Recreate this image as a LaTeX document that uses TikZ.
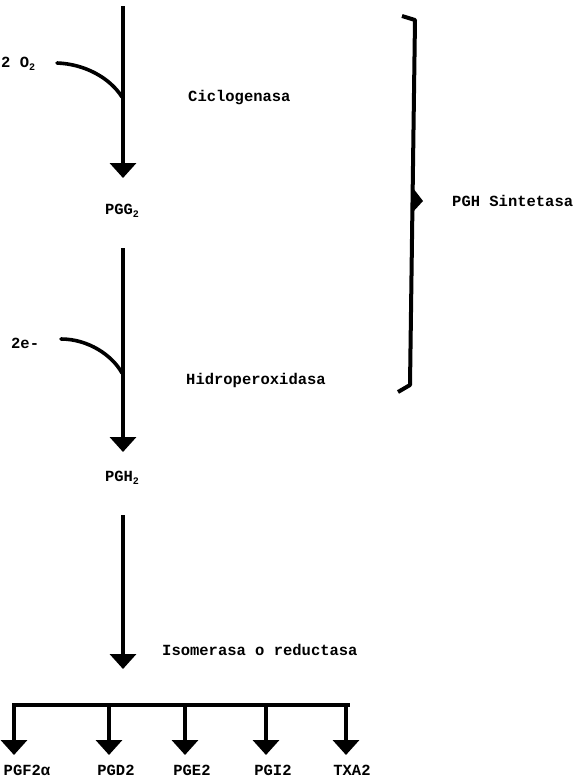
\documentclass[tikz,border=0pt]{standalone}
\usepackage{fontspec}
\setmainfont{Liberation Mono}
\usetikzlibrary{arrows.meta}
\tikzset{
  lbl/.style={font=\bfseries\fontsize{15.5}{18}\selectfont, inner sep=0pt},
  flow/.style={line width=3.6pt, -{Triangle[width=26pt,length=15pt]}},
  feed/.style={line width=3.6pt, line cap=round},
  bar/.style={line width=3.6pt},
}
\newcommand{\sbt}[1]{\raisebox{-0.35ex}{\fontsize{10}{11}\selectfont #1}}
\begin{document}
\begin{tikzpicture}[x=1pt,y=-1pt]
\useasboundingbox (0,0) rectangle (586,780);
% coordinates
\coordinate (t1) at (123,6);
\coordinate (j1) at (122,97);
\coordinate (e1) at (123,178);
\coordinate (t2) at (123,248);
\coordinate (j2) at (122,373);
\coordinate (e2) at (123,452);
\coordinate (t3) at (123,515);
\coordinate (e3) at (123,669);
% labels
\node[lbl, anchor=west] (o2) at (1,64) {2 O\sbt{2}};
\node[lbl, anchor=west] (cic) at (188,98) {Ciclogenasa};
\node[lbl] (pgg) at (122,211) {PGG\sbt{2}};
\node[lbl, anchor=west] (e2m) at (11,343) {2e-};
\node[lbl, anchor=west] (hid) at (186,380) {Hidroperoxidasa};
\node[lbl] (pgh) at (122,478) {PGH\sbt{2}};
\node[lbl, anchor=west] (iso) at (162,650) {Isomerasa o reductasa};
\node[lbl, anchor=west] (sin) at (452,201) {PGH Sintetasa};
% products
\node[lbl] (p1) at (27,770) {PGF2α};
\node[lbl] (p2) at (116,770) {PGD2};
\node[lbl] (p3) at (192,770) {PGE2};
\node[lbl] (p4) at (273,770) {PGI2};
\node[lbl] (p5) at (352,770) {TXA2};
% main arrows
\draw[flow] (t1) -- (e1);
\draw[flow] (t2) -- (e2);
\draw[flow] (t3) -- (e3);
% feed curves
\draw[feed] (57,63) .. controls (85,64) and (110,78) .. (j1);
\draw[feed] (61,339) .. controls (88,339) and (112,355) .. (j2);
% distribution bar
\coordinate (b1) at (14,705);
\coordinate (b5) at (348,705);
\draw[bar] ([xshift=-1.8pt]b1) -- ([xshift=1.8pt]b5);
\foreach \x/\n in {14/1,109/2,185/3,266/4,346/5}{
  \draw[flow] (\x,705) -- (\x,755);
}
% bracket
\draw[line width=4pt, line join=round] (402,16) -- (415,20) -- (410,385) -- (398,392);
\fill (413,188) -- (423,201) -- (412,213) -- cycle;
\end{tikzpicture}
\end{document}
